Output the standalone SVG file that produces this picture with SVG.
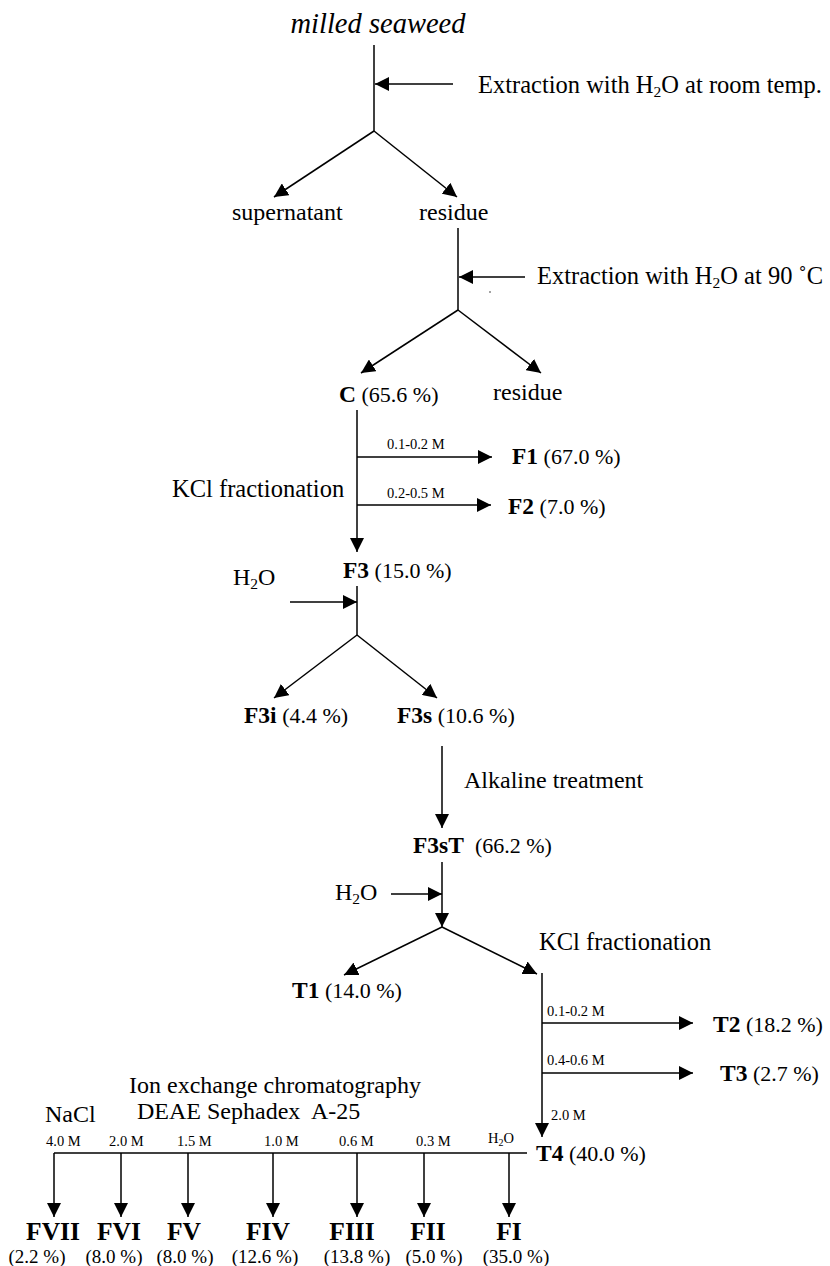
<svg xmlns="http://www.w3.org/2000/svg" width="830" height="1266" viewBox="0 0 830 1266">
<style>
text{font-family:"Liberation Serif","Times New Roman",serif;fill:#000}
.t{font-size:24px}
.e{font-size:24.5px}
.it{font-size:28.5px;font-style:italic}
.b{font-size:23.5px;font-weight:bold}
.p{font-size:22px}
.s{font-size:14.5px}
.bb{font-size:25.5px;font-weight:bold}
.pp{font-size:19px}
.ln{stroke:#000;stroke-width:1.5;fill:none}
.ar{stroke:#000;stroke-width:1.5;fill:none;marker-end:url(#ah)}
</style>
<defs>
<marker id="ah" viewBox="0 0 14 14" refX="14" refY="7" markerWidth="14" markerHeight="14" markerUnits="userSpaceOnUse" orient="auto"><path d="M0,0 L14,7 L0,14 z" fill="#000"/></marker>
</defs>
<rect width="830" height="1266" fill="#fff"/>
<g id="connectors">
<line class="ln" x1="374" y1="45" x2="374" y2="131"/>
<line class="ar" x1="453" y1="84" x2="375" y2="84"/>
<line class="ar" x1="374" y1="131" x2="274" y2="197"/>
<line class="ar" x1="374" y1="131" x2="457" y2="197"/>
<line class="ln" x1="458" y1="228" x2="458" y2="310"/>
<line class="ar" x1="525" y1="277" x2="459" y2="277"/>
<circle cx="490" cy="292" r="0.7" fill="#000"/>
<line class="ar" x1="458" y1="310" x2="361" y2="373"/>
<line class="ar" x1="458" y1="310" x2="541" y2="373"/>
<line class="ar" x1="357" y1="410" x2="357" y2="552"/>
<line class="ar" x1="357" y1="457" x2="492" y2="457"/>
<line class="ar" x1="357" y1="505" x2="491" y2="505"/>
<line class="ln" x1="357" y1="586" x2="357" y2="635"/>
<line class="ar" x1="290" y1="602" x2="357" y2="602"/>
<line class="ar" x1="357" y1="635" x2="274" y2="698"/>
<line class="ar" x1="357" y1="635" x2="437" y2="698"/>
<line class="ar" x1="442" y1="746" x2="442" y2="828"/>
<line class="ar" x1="442" y1="862" x2="442" y2="927"/>
<line class="ar" x1="391" y1="894" x2="442" y2="894"/>
<line class="ar" x1="442" y1="927" x2="344" y2="975"/>
<line class="ar" x1="442" y1="927" x2="537" y2="974"/>
<line class="ar" x1="542" y1="973" x2="542" y2="1137"/>
<line class="ar" x1="542" y1="1023" x2="693" y2="1023"/>
<line class="ar" x1="542" y1="1073" x2="693" y2="1073"/>
<line class="ln" x1="54" y1="1153" x2="527" y2="1153"/>
<line class="ar" x1="54" y1="1153" x2="54" y2="1217"/>
<line class="ar" x1="121" y1="1153" x2="121" y2="1217"/>
<line class="ar" x1="188" y1="1153" x2="188" y2="1217"/>
<line class="ar" x1="273" y1="1153" x2="273" y2="1217"/>
<line class="ar" x1="357" y1="1153" x2="357" y2="1217"/>
<line class="ar" x1="424" y1="1153" x2="424" y2="1217"/>
<line class="ar" x1="509" y1="1153" x2="509" y2="1217"/>
</g>
<g id="labels">
<text class="e" x="478" y="93">Extraction with H<tspan font-size="15.5" dy="4">2</tspan><tspan dy="-4">O at room temp.</tspan></text>
<text class="e" x="537" y="284">Extraction with H<tspan font-size="15.5" dy="4">2</tspan><tspan dy="-4">O at 90 ˚C</tspan></text>
<text class="s" x="387" y="449">0.1-0.2 M</text>
<text class="s" x="387" y="498">0.2-0.5 M</text>
<text class="e" x="172" y="497">KCl fractionation</text>
<text class="t" x="233" y="585">H<tspan font-size="15.5" dy="4">2</tspan><tspan dy="-4">O</tspan></text>
<text class="t" x="464" y="788">Alkaline treatment</text>
<text class="t" x="335" y="900">H<tspan font-size="15.5" dy="4">2</tspan><tspan dy="-4">O</tspan></text>
<text class="e" x="539" y="950">KCl fractionation</text>
<text class="s" x="547" y="1016">0.1-0.2 M</text>
<text class="s" x="547" y="1065">0.4-0.6 M</text>
<text class="s" x="551" y="1120">2.0 M</text>
<text class="t" x="129" y="1093">Ion exchange chromatography</text>
<text class="t" x="137" y="1119" xml:space="preserve">DEAE Sephadex  A-25</text>
<text class="t" x="45" y="1122">NaCl</text>
<text class="s" x="46" y="1146">4.0 M</text>
<text class="s" x="109" y="1146">2.0 M</text>
<text class="s" x="177" y="1146">1.5 M</text>
<text class="s" x="264" y="1146">1.0 M</text>
<text class="s" x="339" y="1146">0.6 M</text>
<text class="s" x="416" y="1146">0.3 M</text>
<text class="s" x="488" y="1143">H<tspan font-size="10" dy="3">2</tspan><tspan dy="-3">O</tspan></text>
</g>
<g id="n-milled"><text class="it" x="378" y="33" text-anchor="middle">milled seaweed</text></g>
<g id="n-supernatant"><text class="t" x="232" y="220">supernatant</text></g>
<g id="n-residue1"><text class="t" x="419" y="220">residue</text></g>
<g id="n-C"><text x="339" y="402"><tspan class="b">C</tspan><tspan class="p"> (65.6 %)</tspan></text></g>
<g id="n-residue2"><text class="t" x="493" y="400">residue</text></g>
<g id="n-F1"><text x="512" y="464"><tspan class="b">F1</tspan><tspan class="p"> (67.0 %)</tspan></text></g>
<g id="n-F2"><text x="508" y="514"><tspan class="b">F2</tspan><tspan class="p"> (7.0 %)</tspan></text></g>
<g id="n-F3"><text x="343" y="578"><tspan class="b">F3</tspan><tspan class="p"> (15.0 %)</tspan></text></g>
<g id="n-F3i"><text x="244" y="723"><tspan class="b">F3i</tspan><tspan class="p"> (4.4 %)</tspan></text></g>
<g id="n-F3s"><text x="397" y="723"><tspan class="b">F3s</tspan><tspan class="p"> (10.6 %)</tspan></text></g>
<g id="n-F3sT"><text x="413" y="853" xml:space="preserve"><tspan class="b">F3sT</tspan><tspan class="p">  (66.2 %)</tspan></text></g>
<g id="n-T1"><text x="292" y="998"><tspan class="b">T1</tspan><tspan class="p"> (14.0 %)</tspan></text></g>
<g id="n-T2"><text x="713" y="1032"><tspan class="b">T2</tspan><tspan class="p"> (18.2 %)</tspan></text></g>
<g id="n-T3"><text x="720" y="1081"><tspan class="b">T3</tspan><tspan class="p"> (2.7 %)</tspan></text></g>
<g id="n-T4"><text x="536" y="1161"><tspan class="b">T4</tspan><tspan class="p"> (40.0 %)</tspan></text></g>
<g id="n-FVII"><text class="bb" x="53" y="1240" text-anchor="middle">FVII</text><text class="pp" x="37" y="1263" text-anchor="middle">(2.2 %)</text></g>
<g id="n-FVI"><text class="bb" x="119" y="1240" text-anchor="middle">FVI</text><text class="pp" x="114" y="1263" text-anchor="middle">(8.0 %)</text></g>
<g id="n-FV"><text class="bb" x="184" y="1240" text-anchor="middle">FV</text><text class="pp" x="185" y="1263" text-anchor="middle">(8.0 %)</text></g>
<g id="n-FIV"><text class="bb" x="268" y="1240" text-anchor="middle">FIV</text><text class="pp" x="265" y="1263" text-anchor="middle">(12.6 %)</text></g>
<g id="n-FIII"><text class="bb" x="352" y="1240" text-anchor="middle">FIII</text><text class="pp" x="357" y="1263" text-anchor="middle">(13.8 %)</text></g>
<g id="n-FII"><text class="bb" x="428" y="1240" text-anchor="middle">FII</text><text class="pp" x="434" y="1263" text-anchor="middle">(5.0 %)</text></g>
<g id="n-FI"><text class="bb" x="509" y="1240" text-anchor="middle">FI</text><text class="pp" x="516" y="1263" text-anchor="middle">(35.0 %)</text></g>
</svg>
